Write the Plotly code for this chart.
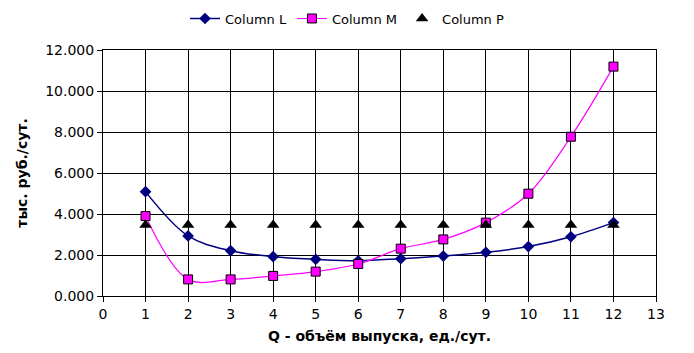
import plotly.graph_objects as go

q = [1, 2, 3, 4, 5, 6, 7, 8, 9, 10, 11, 12]
col_l = [5.09, 2.93, 2.21, 1.92, 1.79, 1.72, 1.82, 1.95, 2.13, 2.41, 2.89, 3.58]
col_m = [3.90, 0.81, 0.81, 0.98, 1.19, 1.56, 2.31, 2.76, 3.58, 4.99, 7.77, 11.19]
col_p = [3.46] * 12

x_ticks = list(range(0, 14))
y_ticks = [0, 2, 4, 6, 8, 10, 12]

font = "DejaVu Sans"

fig = go.Figure()
fig.add_trace(go.Scatter(
    x=q, y=col_l, name="Column L", mode="lines+markers",
    line=dict(color="#000080", width=1.5, shape="spline", smoothing=1),
    marker=dict(symbol="diamond", size=9, color="#000080"),
))
fig.add_trace(go.Scatter(
    x=q, y=col_m, name="Column M", mode="lines+markers",
    line=dict(color="#FF00FF", width=1.2, shape="spline", smoothing=1),
    marker=dict(symbol="square", size=9, color="#FF00FF",
                line=dict(color="#000000", width=1)),
))
fig.add_trace(go.Scatter(
    x=q, y=col_p, name="Column P", mode="markers",
    marker=dict(symbol="triangle-up", size=11, color="#000000"),
))

fig.update_layout(
    width=694, height=353,
    margin=dict(l=103, r=38, t=50, b=57),
    paper_bgcolor="white", plot_bgcolor="white",
    font=dict(family=font, size=13, color="#000000"),
    showlegend=True,
    legend=dict(orientation="h", x=0.5, xanchor="center", xref="container",
                y=0.99, yanchor="top", yref="container",
                font=dict(family=font, size=13), itemwidth=30,
                bgcolor="rgba(0,0,0,0)"),
    xaxis=dict(
        range=[0, 13], tickmode="array", tickvals=x_ticks,
        showgrid=True, gridcolor="#000000", gridwidth=1,
        showline=True, linecolor="#000000", linewidth=1, mirror=True,
        ticks="outside", ticklen=5, tickcolor="#000000",
        zeroline=False, automargin=False,
        tickfont=dict(family=font, size=14),
        title=dict(text="<b>Q - объём выпуска, ед./сут.</b>", font=dict(family=font, size=14), standoff=10),
    ),
    yaxis=dict(
        range=[0, 12], tickmode="array", tickvals=y_ticks, tickformat=".3f",
        showgrid=True, gridcolor="#000000", gridwidth=1,
        showline=True, linecolor="#000000", linewidth=1, mirror=True,
        ticks="outside", ticklen=5, tickcolor="#000000",
        zeroline=False, automargin=False,
        tickfont=dict(family=font, size=14),
        title=dict(text="<b>тыс. руб./сут.</b>", font=dict(family=font, size=14), standoff=14),
    ),
)

fig.write_html("out.html")
